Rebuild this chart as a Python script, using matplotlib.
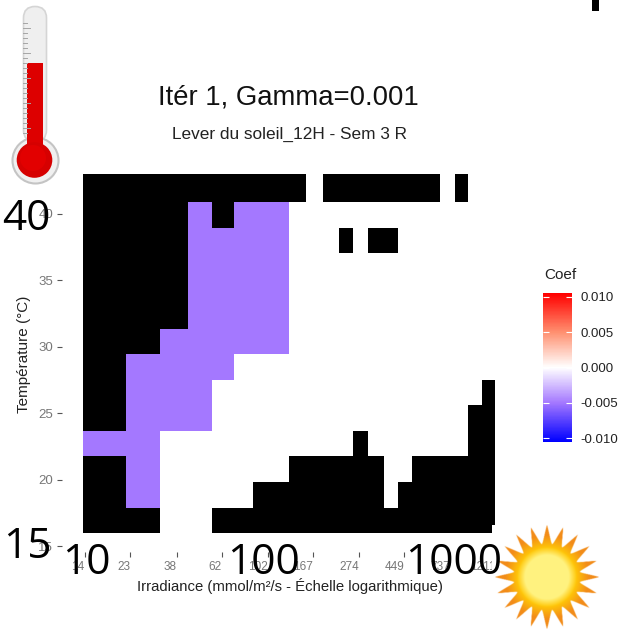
import numpy as np
import matplotlib
matplotlib.use("Agg")
from matplotlib import pyplot as plt
from matplotlib.colors import LinearSegmentedColormap, Normalize
from matplotlib.patches import Circle, FancyBboxPatch, Rectangle

W, H = 625, 635
SANS = ["Liberation Sans", "DejaVu Sans"]

# bord des cases
irr_edges = [13.77, 21.9, 31.6, 42.8, 55.9, 70.8, 87.2, 105.7, 128.6, 154.6, 186.4, 221,
             258, 303.5, 360, 417.6, 489, 569, 662, 774, 897, 1038, 1199]
temp_edges = [42.95, 40.9, 38.95, 37.0, 35.2, 33.3, 31.35, 29.45, 27.5, 25.6, 23.65, 21.75,
              19.8, 17.9, 15.96]

# K = NA (noir), P = coef negatif, . = coef nul
cell_rows = [
    "KKKKKKKKK.KKKKKKKK.K..",
    "KKKPKPPP..............",
    "KKKPPPPP...K.KK.......",
    "KKKPPPPP..............",
    "KKKPPPPP..............",
    "KKKPPPPP..............",
    "KKPPPPPP..............",
    "KPPPP.................",
    "KPPP.................K",
    "KPPP................KK",
    "PP..........K.......KK",
    "KP......KKKKKK..KKKKKK",
    "KP....KKKKKKKK.KKKKKKK",
    "KK..KKKKKKKKKKKKKKKKKK",
]
coef_p = -0.005

x_ticks = [14, 23, 38, 62, 102, 167, 274, 449, 737, 1211]
y_ticks = [15, 20, 25, 30, 35, 40]
coef_ticks = [-0.010, -0.005, 0.000, 0.005, 0.010]
coef_nodes = [-0.0105, -0.005, 0.0, 0.005, 0.0105]
coef_colors = ["#0000ff", "#a478ff", "#ffffff", "#ff9070", "#ff0000"]

big_labels = [("40", 26.5, 230), ("15", 27, 558), ("10", 86, 574), ("100", 263, 574), ("1000", 454, 574)]


def px_axes(fig, x0, y0, x1, y1):
    # position en pixels, origine en haut a gauche
    return fig.add_axes([x0 / W, 1 - y1 / H, (x1 - x0) / W, (y1 - y0) / H])


fig = plt.figure(figsize=(W / 100, H / 100), dpi=100, facecolor="white")

# heatmap
ax = px_axes(fig, 62.3, 156, 515, 551.7)
code = {"K": np.nan, "P": coef_p, ".": 0.0}
grid = np.array([[code[c] for c in row] for row in cell_rows])
pos = [(v - coef_nodes[0]) / (coef_nodes[-1] - coef_nodes[0]) for v in coef_nodes]
# N impair pour que 0 tombe exactement sur le blanc
cmap = LinearSegmentedColormap.from_list("coef", list(zip(pos, coef_colors)), N=257)
cmap.set_bad("black")
norm = Normalize(coef_nodes[0], coef_nodes[-1])
mesh = ax.pcolormesh(irr_edges, temp_edges, np.ma.masked_invalid(grid), cmap=cmap, norm=norm)
ax.set_xscale("log")
ax.set_xlim(11.0, 1488)
ax.set_ylim(14.58, 44.33)
ax.minorticks_off()
ax.set_xticks(x_ticks)
ax.set_xticklabels([str(v) for v in x_ticks], ha="right")
ax.set_yticks(y_ticks)
ax.tick_params(axis="both", length=3.5, width=0.8, color="#555555", labelcolor="#777777", labelsize=9.5, pad=3)
ax.tick_params(axis="x", labelsize=8.5)
for lab in ax.get_xticklabels() + ax.get_yticklabels():
    lab.set_family(SANS)
for s in ax.spines.values():
    s.set_visible(False)

# legende
cax = px_axes(fig, 543.3, 293.3, 571.7, 441.7)
cb = fig.colorbar(mesh, cax=cax, ticks=coef_ticks)
cb.outline.set_visible(False)
cb.ax.tick_params(length=0, pad=6, labelsize=9.5)
cb.ax.set_yticklabels(["%.3f" % v for v in coef_ticks], family=SANS, color="#222222")
cb.ax.hlines(coef_ticks, 0, 0.2, transform=cb.ax.get_yaxis_transform(), color="white", lw=0.8)
cb.ax.hlines(coef_ticks, 0.8, 1, transform=cb.ax.get_yaxis_transform(), color="white", lw=0.8)

# calque en pixels pour le texte et les images
ov = fig.add_axes([0, 0, 1, 1], facecolor="none")
ov.axis("off")

ov.text(288, 98, "Itér 1, Gamma=0.001", ha="center", va="center", fontsize=19.8, family=SANS, color="#111111")
ov.text(289, 134, "Lever du soleil_12H - Sem 3 R", ha="center", va="center", fontsize=12.4, family=SANS, color="#222222")
ov.text(289.5, 586, "Irradiance (mmol/m²/s - Échelle logarithmique)", ha="center", va="center", fontsize=10.7, family=SANS, color="#222222")
ov.text(24.5, 354, "Température (°C)", ha="center", va="center", rotation=90, fontsize=11, family=SANS, color="#222222")
ov.text(544, 275, "Coef", ha="left", va="center", fontsize=11, family=SANS, color="#222222")

# thermometre
ov.add_patch(FancyBboxPatch((23.5, 6.5), 23, 135, boxstyle="round,pad=0,rounding_size=11.5", fc="#efefef", ec="#d5d5d5", lw=1.2))
ov.add_patch(Circle((35.5, 160.5), 23, fc="#f0f0f0", ec="#c4c4c4", lw=1.5))
ov.add_patch(Rectangle((26.7, 63), 16, 85, fc="#dd0000", ec="none"))
ov.add_patch(Circle((34.5, 160), 17.8, fc="#d60000", ec="none"))
ov.add_patch(Circle((33, 158), 13, fc="#e20000", ec="none"))
for k in range(23, 137, 5):
    ov.plot([23, 27 + 3 * (k % 25 == 3)], [k, k], color="#a5a5a5", lw=0.7)

# soleil
ov.add_patch(Rectangle((492, 525), 108, 107, fc="white", ec="none", zorder=3))
cx, cy = 546.7, 576.7
n = 216
xs, ys = np.meshgrid(np.linspace(cx - 54, cx + 54, n), np.linspace(cy - 54, cy + 54, n))
r = np.hypot(xs - cx, ys - cy)
ang = np.arctan2(ys - cy, xs - cx)
wave = np.abs(((ang * 20 / (2 * np.pi)) % 1) - 0.5) * 2
edge = 34 + 19 * wave ** 1.6
inner = np.array([1.0, 0.95, 0.50])
mid = np.array([1.0, 0.78, 0.03])
outer = np.array([0.95, 0.55, 0.10])
t1 = np.clip((r - 22) / 8, 0, 1)[..., None]
t2 = np.clip((r - 29) / 13, 0, 1)[..., None]
rgb = inner * (1 - t1) + mid * t1
rgb = rgb * (1 - t2) + outer * t2
alpha = np.clip(edge - r, 0, 1)[..., None]
ov.imshow(np.dstack([rgb, alpha]), extent=(cx - 54, cx + 54, cy + 54, cy - 54), aspect="auto", zorder=4, interpolation="bilinear")

# petit trait en haut a droite
ov.add_patch(Rectangle((592.3, 0), 7, 11, fc="black", ec="none"))

for txt, x, y in big_labels:
    ov.text(x, y, txt, ha="center", va="baseline", fontsize=30.5, family=["Open Sans", "DejaVu Sans"], color="black", zorder=5)

ov.set_xlim(0, W)
ov.set_ylim(H, 0)

fig.savefig("out.png", dpi=100, facecolor="white")
